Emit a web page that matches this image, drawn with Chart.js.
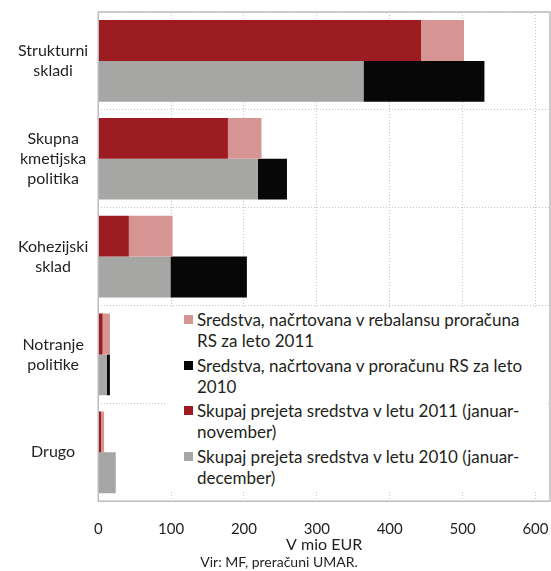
<!DOCTYPE html>
<html>
<head>
<meta charset="utf-8">
<script src="https://cdn.jsdelivr.net/npm/chart.js@4"></script>
<style>
  body { margin: 0; background: #fff; }
  #wrap { position: relative; width: 551px; height: 571px; }
  #legend {
    position: absolute; left: 167px; top: 307px; width: 381px; height: 183px;
    background: #fff; font-family: Lato, sans-serif; font-size: 17px; color: #231f20;
    box-sizing: border-box; padding-top: 2px;
  }
  .item { position: relative; padding-left: 30px; line-height: 21px; margin-bottom: 3.5px; white-space: nowrap; }
  .sw { position: absolute; left: 17px; top: 6px; width: 9px; height: 9px; }
</style>
</head>
<body>
<div id="wrap">
  <canvas id="myChart1" width="551" height="571"></canvas>
  <div id="legend"></div>
</div>
<script>
const categories = [
  ["Strukturni", "skladi"],
  ["Skupna", "kmetijska", "politika"],
  ["Kohezijski", "sklad"],
  ["Notranje", "politike"],
  ["Drugo"],
];
// v mio EUR
const received2011 = [443, 178, 42, 6, 4];
const planned2011 = [502, 224, 102, 16, 8];
const received2010 = [364, 219, 99, 12, 24];
const planned2010 = [530, 259, 204, 16, 24];
const xTicks = [0, 100, 200, 300, 400, 500, 600];

const colRed = "#9c1c22";
const colPink = "#d69593";
const colGray = "#a6a6a4";
const colBlack = "#070707";
const textCol = "#231f20";

// legend order as in the figure
const legendItems = [
  { color: colPink, lines: ["Sredstva, načrtovana v rebalansu proračuna", "RS za leto 2011"] },
  { color: colBlack, lines: ["Sredstva, načrtovana v proračunu RS za leto", "2010"] },
  { color: colRed, lines: ["Skupaj prejeta sredstva v letu 2011 (januar-", "november)"] },
  { color: colGray, lines: ["Skupaj prejeta sredstva v letu 2010 (januar-", "december)"] },
];

const legend = document.getElementById("legend");
legendItems.forEach((it) => {
  const d = document.createElement("div");
  d.className = "item";
  d.innerHTML = '<span class="sw" style="background:' + it.color + '"></span>' + it.lines.join("<br>");
  legend.appendChild(d);
});

const boxPlugin = {
  id: "box",
  afterDraw(chart) {
    const { ctx, chartArea: a } = chart;
    ctx.save();
    ctx.strokeStyle = "#bdbdbd";
    ctx.lineWidth = 1.5;
    ctx.strokeRect(a.left, a.top, a.right - a.left, a.bottom - a.top);
    ctx.restore();
  },
};

const ctx = document.getElementById("myChart1");

new Chart(ctx, {
  type: "bar",
  data: {
    labels: categories,
    datasets: [
      {
        label: legendItems[2].lines.join(" "),
        data: received2011,
        stack: "y2011",
        backgroundColor: colRed,
      },
      {
        label: legendItems[0].lines.join(" "),
        data: planned2011.map((v, i) => v - received2011[i]),
        stack: "y2011",
        backgroundColor: colPink,
      },
      {
        label: legendItems[3].lines.join(" "),
        data: received2010,
        stack: "y2010",
        backgroundColor: colGray,
      },
      {
        label: legendItems[1].lines.join(" "),
        data: planned2010.map((v, i) => v - received2010[i]),
        stack: "y2010",
        backgroundColor: colBlack,
      },
    ],
  },
  options: {
    indexAxis: "y",
    responsive: false,
    animation: false,
    categoryPercentage: 0.835,
    barPercentage: 1,
    borderWidth: 0,
    layout: { padding: { left: 8, right: 1, top: 12, bottom: 0 } },
    plugins: {
      legend: { display: false },
      tooltip: { enabled: false },
      title: {
        display: true,
        position: "bottom",
        text: "Vir: MF, preračuni UMAR.",
        color: textCol,
        font: { family: "Lato", size: 14, weight: "normal", lineHeight: 1.2 },
        padding: { top: 1, bottom: 0 },
      },
    },
    scales: {
      x: {
        stacked: true,
        min: 0,
        max: 620,
        afterBuildTicks: (axis) => {
          axis.ticks = xTicks.map((v) => ({ value: v }));
        },
        afterFit: (axis) => {
          axis.paddingLeft = 0;
          axis.paddingRight = 0;
          axis.height = 52;
        },
        grid: { color: "#c4c4c4", drawTicks: false, lineWidth: 1 },
        border: { display: false, dash: [1, 2] },
        ticks: {
          padding: 19,
          color: textCol,
          font: { family: "Lato", size: 15, lineHeight: 1.2 },
        },
        title: {
          display: true,
          text: "V mio EUR",
          color: textCol,
          font: { family: "Lato", size: 16, lineHeight: 1 },
          padding: { top: 0, bottom: 0 },
        },
      },
      y: {
        stacked: true,
        afterFit: (axis) => {
          axis.paddingTop = 0;
          axis.paddingBottom = 0;
        },
        grid: { color: "#c4c4c4", drawTicks: false, offset: true, lineWidth: 1 },
        border: { display: false, dash: [1, 2] },
        ticks: {
          padding: 10,
          crossAlign: "center",
          color: textCol,
          font: { family: "Lato", size: 16, lineHeight: 1.25 },
        },
      },
    },
  },
  plugins: [boxPlugin],
});
</script>
</body>
</html>
